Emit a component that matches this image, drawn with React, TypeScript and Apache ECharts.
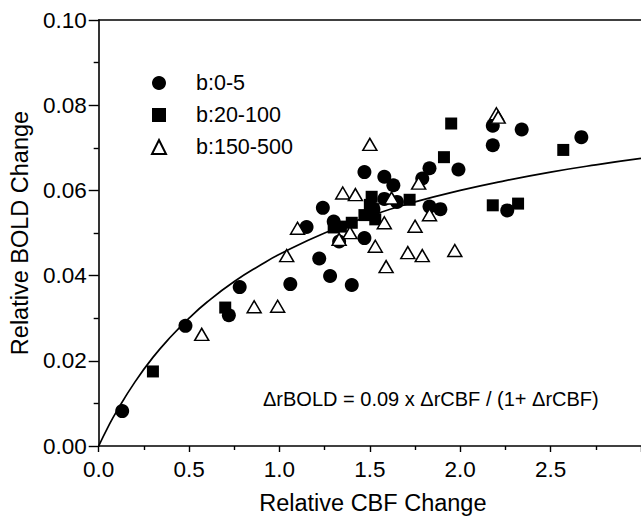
import React, { useEffect, useRef } from "react";
import * as echarts from "echarts";

// b:0-5 (filled circles): [relative CBF change, relative BOLD change]
const circles: number[][] = [
  [0.13, 0.0082], [0.48, 0.0282], [0.72, 0.0307], [0.78, 0.0373], [1.06, 0.038],
  [1.15, 0.0514], [1.22, 0.044], [1.24, 0.0559], [1.28, 0.0399], [1.3, 0.0527],
  [1.33, 0.048], [1.4, 0.0378], [1.47, 0.0488], [1.47, 0.0643], [1.52, 0.0556],
  [1.58, 0.0632], [1.58, 0.058], [1.63, 0.0612], [1.65, 0.0573], [1.79, 0.0628],
  [1.83, 0.0652], [1.83, 0.0562], [1.89, 0.0556], [1.99, 0.0649], [2.18, 0.0752],
  [2.18, 0.0706], [2.26, 0.0553], [2.34, 0.0743], [2.67, 0.0725],
];

// b:20-100 (filled squares)
const squares: number[][] = [
  [0.3, 0.0175], [0.7, 0.0325], [1.3, 0.0513], [1.34, 0.0515], [1.4, 0.0524],
  [1.47, 0.0542], [1.5, 0.0566], [1.51, 0.0585], [1.52, 0.0556], [1.53, 0.0532],
  [1.72, 0.0578], [1.91, 0.0678], [1.95, 0.0757], [2.18, 0.0565], [2.32, 0.0569],
  [2.57, 0.0695],
];

// b:150-500 (open triangles)
const triangles: number[][] = [
  [0.57, 0.0262], [0.86, 0.0327], [0.99, 0.0328], [1.04, 0.0447], [1.1, 0.0511],
  [1.33, 0.0485], [1.35, 0.0594], [1.39, 0.0501], [1.42, 0.059], [1.5, 0.0708],
  [1.53, 0.0469], [1.58, 0.0524], [1.59, 0.0421], [1.62, 0.0582], [1.71, 0.0454],
  [1.75, 0.0516], [1.77, 0.0617], [1.79, 0.0447], [1.83, 0.0543], [1.97, 0.0459],
  [2.2, 0.078], [2.21, 0.0772],
];

// fitted curve
const curveX: number[] = [0, 0.05, 0.1, 0.2, 0.3, 0.4, 0.5, 0.6, 0.75, 0.9, 1.0, 1.25, 1.5, 1.75, 2.0, 2.25, 2.5, 2.75, 3.0];
const curveY: number[] = [0, 0.0043, 0.0082, 0.015, 0.0208, 0.0257, 0.03, 0.0338, 0.0386, 0.0426, 0.045, 0.05, 0.054, 0.0573, 0.06, 0.0623, 0.0643, 0.066, 0.0675];

const seriesNames = ["b:0-5", "b:20-100", "b:150-500"];
const xTitle = "Relative CBF Change";
const yTitle = "Relative BOLD Change";
const equation = "\u0394rBOLD = 0.09 x \u0394rCBF / (1+ \u0394rCBF)";

const FONT = "'Liberation Sans', Arial, Helvetica, sans-serif";

export default function App() {
  const ref = useRef<HTMLDivElement>(null);
  useEffect(() => {
    document.body.style.margin = "0";
    const chart = echarts.init(ref.current!, null, { renderer: "svg" });
    const black = "#000";
    const curve = curveX.map((x, i) => [x, curveY[i]]);
    chart.setOption({
      animation: false,
      backgroundColor: "#fff",
      textStyle: { fontFamily: FONT, color: black },
      grid: { left: 98, top: 20, bottom: 80, right: -19.5, containLabel: false },
      legend: {
        orient: "vertical",
        left: 146,
        top: 67,
        itemWidth: 14,
        itemHeight: 14,
        itemGap: 10,
        data: seriesNames,
        textStyle: { fontFamily: FONT, fontSize: 21.5, color: black, lineHeight: 22, padding: [0, 0, 0, 25] },
      },
      xAxis: [
        {
          type: "value",
          min: 0,
          max: 3,
          interval: 0.5,
          position: "bottom",
          splitLine: { show: false },
          axisLine: { lineStyle: { color: black, width: 1.6 } },
          axisTick: { length: 6, lineStyle: { color: black, width: 1.4 } },
          minorTick: { show: true, splitNumber: 2, length: 4, lineStyle: { color: black, width: 1.4 } },
          axisLabel: {
            color: black,
            fontFamily: FONT,
            fontSize: 22.5,
            margin: 12,
            showMaxLabel: false,
            formatter: (v: number) => v.toFixed(1),
          },
          name: xTitle,
          nameLocation: "middle",
          nameGap: 45,
          nameTextStyle: { fontFamily: FONT, fontSize: 23.5, color: black, padding: [0, 0, 0, 6] },
        },
        {
          type: "value",
          min: 0,
          max: 3,
          position: "top",
          splitLine: { show: false },
          axisLine: { show: true, lineStyle: { color: black, width: 1.5 } },
          axisTick: { show: false },
          axisLabel: { show: false },
        },
      ],
      yAxis: {
        type: "value",
        min: 0,
        max: 0.1,
        interval: 0.02,
        splitLine: { show: false },
        axisLine: { show: true, lineStyle: { color: black, width: 1.6 } },
        axisTick: { length: 10, lineStyle: { color: black, width: 1.4 } },
        minorTick: { show: true, splitNumber: 2, length: 5, lineStyle: { color: black, width: 1.4 } },
        axisLabel: {
          color: black,
          fontFamily: FONT,
          fontSize: 22.5,
          margin: 12,
          formatter: (v: number) => v.toFixed(2),
        },
        name: yTitle,
        nameLocation: "middle",
        nameGap: 62,
        nameTextStyle: { fontFamily: FONT, fontSize: 23.5, color: black },
      },
      graphic: [
        {
          type: "text",
          left: 263,
          top: 389,
          style: { text: equation, font: `20px ${FONT}`, fill: black },
        },
      ],
      series: [
        {
          name: "fit",
          type: "line",
          data: curve,
          smooth: true,
          showSymbol: false,
          symbol: "none",
          lineStyle: { color: black, width: 1.7 },
          z: 1,
          silent: true,
        },
        {
          name: seriesNames[0],
          type: "scatter",
          data: circles,
          symbol: "circle",
          symbolSize: 14,
          itemStyle: { color: black, opacity: 1 },
          z: 2,
        },
        {
          name: seriesNames[1],
          type: "scatter",
          data: squares,
          symbol: "rect",
          symbolSize: 12,
          itemStyle: { color: black, opacity: 1 },
          z: 3,
        },
        {
          name: seriesNames[2],
          type: "scatter",
          data: triangles,
          symbol: "triangle",
          symbolSize: [14, 12],
          itemStyle: { color: "#fff", borderColor: black, borderWidth: 1.5, opacity: 1 },
          z: 4,
        },
      ],
    });
    return () => chart.dispose();
  }, []);
  return <div ref={ref} style={{ position: "fixed", left: 0, top: 0, width: 641, height: 526 }} />;
}
